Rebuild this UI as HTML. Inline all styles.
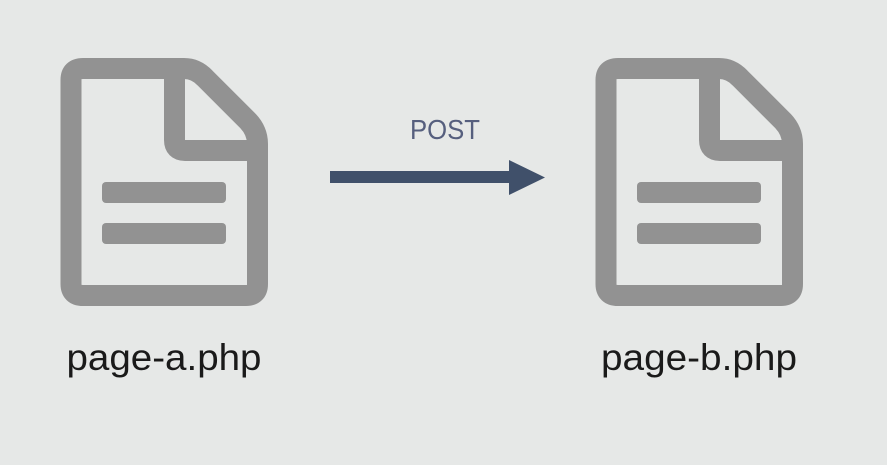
<!DOCTYPE html>
<html><head><style>
html,body{margin:0;padding:0;background:#e6e8e7;width:887px;height:465px;overflow:hidden}
svg{position:absolute;left:0;top:0}
text{font-family:"Liberation Sans",sans-serif}
</style></head><body>
<svg width="887" height="465" viewBox="0 0 887 465">
<defs>
<g id="doc">
<path d="M71 80 Q71 68.5 83 68.5 L184 68.5 Q196 68.5 205 78 L248 121 Q257.5 131 257.5 144 L257.5 284 Q257.5 295.5 246 295.5 L83 295.5 Q71 295.5 71 284 Z" fill="none" stroke="#929292" stroke-width="21" stroke-linejoin="round"/>
<path d="M174.5 70 L174.5 140 Q174.5 150.5 185 150.5 L256 150.5" fill="none" stroke="#929292" stroke-width="21" stroke-linejoin="round"/>
<rect x="102" y="182" width="124" height="21" rx="4" fill="#929292"/>
<rect x="102" y="223" width="124" height="21" rx="4" fill="#929292"/>
</g>
</defs>
<use href="#doc"/>
<use href="#doc" transform="translate(535,0)"/>
<rect x="330" y="171" width="182" height="12" fill="#40506a"/>
<polygon points="509,160 545,177.5 509,195" fill="#40506a"/>
<text x="445" y="139" font-size="28" fill="#565f7e" text-anchor="middle" textLength="70" lengthAdjust="spacingAndGlyphs">POST</text>
<text x="164" y="370" font-size="37" fill="#1a1a1a" text-anchor="middle" textLength="195" lengthAdjust="spacingAndGlyphs">page-a.php</text>
<text x="699" y="370" font-size="37" fill="#1a1a1a" text-anchor="middle" textLength="196" lengthAdjust="spacingAndGlyphs">page-b.php</text>
</svg>
</body></html>
